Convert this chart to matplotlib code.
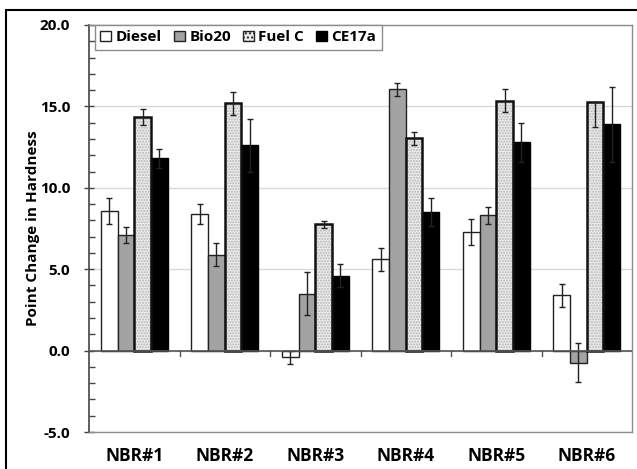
import matplotlib
matplotlib.use("Agg")
import matplotlib.pyplot as plt
import matplotlib.patches as mpatches
import numpy as np

plt.rcParams["font.family"] = ["Open Sans", "DejaVu Sans"]
plt.rcParams["font.weight"] = "bold"

CATEGORIES = ["NBR#1", "NBR#2", "NBR#3", "NBR#4", "NBR#5", "NBR#6"]
SERIES = ["Diesel", "Bio20", "Fuel C", "CE17a"]

diesel = [8.6, 8.4, -0.4, 5.6, 7.3, 3.4]
diesel_err = [0.8, 0.6, 0.4, 0.7, 0.8, 0.7]
bio20 = [7.1, 5.9, 3.5, 16.05, 8.3, -0.75]
bio20_err = [0.5, 0.7, 1.3, 0.4, 0.5, 1.2]
fuelc = [14.35, 15.2, 7.75, 13.05, 15.35, 15.25]
fuelc_err_lo = [0.5, 0.7, 0.2, 0.4, 0.7, 1.5]
fuelc_err_hi = [0.5, 0.7, 0.2, 0.4, 0.7, 0.0]
ce17a = [11.8, 12.6, 4.6, 8.5, 12.8, 13.9]
ce17a_err = [0.6, 1.65, 0.7, 0.85, 1.2, 2.3]

fig = plt.figure(figsize=(6.37, 4.69), dpi=100)
ax = fig.add_axes([89 / 637, 37 / 469, 543 / 637, 407 / 469])

x = np.arange(len(CATEGORIES))
w = 0.185
offs = (np.arange(4) - 1.5) * w
err_kw = dict(ecolor="#222222", elinewidth=1.0, capsize=2.2, capthick=1.0, zorder=5)

ax.bar(x + offs[0], diesel, w, color="white", edgecolor="#222222", linewidth=1.0, zorder=3)
ax.errorbar(x + offs[0], diesel, yerr=diesel_err, fmt="none", **err_kw)

ax.bar(x + offs[1], bio20, w, color="#a3a3a3", edgecolor="#222222", linewidth=1.0, zorder=3)
ax.errorbar(x + offs[1], bio20, yerr=bio20_err, fmt="none", **err_kw)

# fuel C: dotted fill, then heavy black outline on top
ax.bar(x + offs[2], fuelc, w, color="#ececec", edgecolor="#b5b5b5", hatch="......",
       linewidth=0, zorder=3)
ax.bar(x + offs[2], fuelc, w, fill=False, edgecolor="#111111", linewidth=1.8, zorder=4)
ax.errorbar(x + offs[2], fuelc, yerr=[fuelc_err_lo, fuelc_err_hi], fmt="none", **err_kw)

ax.bar(x + offs[3], ce17a, w, color="black", edgecolor="black", linewidth=1.0, zorder=3)
ax.errorbar(x + offs[3], ce17a, yerr=ce17a_err, fmt="none", **err_kw)

ax.set_xlim(-0.5, len(CATEGORIES) - 0.5)
ax.set_ylim(-5, 20)

ax.set_yticks(np.arange(-5, 20.1, 5))
ax.set_yticks(np.arange(-5, 20.1, 1), minor=True)
ax.set_yticklabels([f"{v:.1f}" for v in np.arange(-5, 20.1, 5)], fontsize=11, fontweight="bold")
ax.tick_params(axis="y", which="major", direction="inout", length=7, width=1, color="#444444", pad=10)
ax.tick_params(axis="y", which="minor", direction="in", length=4, width=1, color="#444444")

ax.set_xticks(x)
ax.set_xticklabels(CATEGORIES, fontsize=12.5, fontweight="bold")
ax.tick_params(axis="x", length=0, pad=11)

ax.grid(axis="y", which="major", color="#d9d9d9", linewidth=1.0, zorder=0)
ax.axhline(0, color="#555555", linewidth=1.2, zorder=6)
for b in np.arange(0.5, len(CATEGORIES) - 0.5, 1):
    ax.plot([b, b], [-0.35, 0], color="#555555", linewidth=1.0, zorder=6)

for name, sp in ax.spines.items():
    sp.set_color("#8c8c8c")
    sp.set_linewidth(1.0)
ax.spines["left"].set_color("#444444")
ax.spines["left"].set_linewidth(1.2)

ax.set_ylabel("Point Change in Hardness", fontsize=11, fontweight="bold", labelpad=0)

handles = [
    mpatches.Patch(facecolor="white", edgecolor="#222222", label=SERIES[0]),
    mpatches.Patch(facecolor="#a3a3a3", edgecolor="#222222", label=SERIES[1]),
    mpatches.Patch(facecolor="#ececec", edgecolor="#222222", hatch="....", label=SERIES[2]),
    mpatches.Patch(facecolor="black", edgecolor="black", label=SERIES[3]),
]
leg = ax.legend(handles=handles, loc="upper left", ncol=4, fontsize=11,
                bbox_to_anchor=(0.011, 1.0), borderaxespad=0.0,
                handlelength=0.7, handleheight=0.7,
                handletextpad=0.3, columnspacing=0.8, borderpad=0.35,
                fancybox=False, framealpha=1, edgecolor="#8c8c8c")
leg.get_frame().set_linewidth(1.0)
for t in leg.get_texts():
    t.set_fontweight("bold")

# outer frame of the picture
fig.patches.append(mpatches.Rectangle((6 / 637, -0.1), 1.2, 1 - 10 / 469 + 0.1,
                                      transform=fig.transFigure, fill=False,
                                      edgecolor="black", linewidth=1.5))

fig.savefig("out.png", dpi=100)
